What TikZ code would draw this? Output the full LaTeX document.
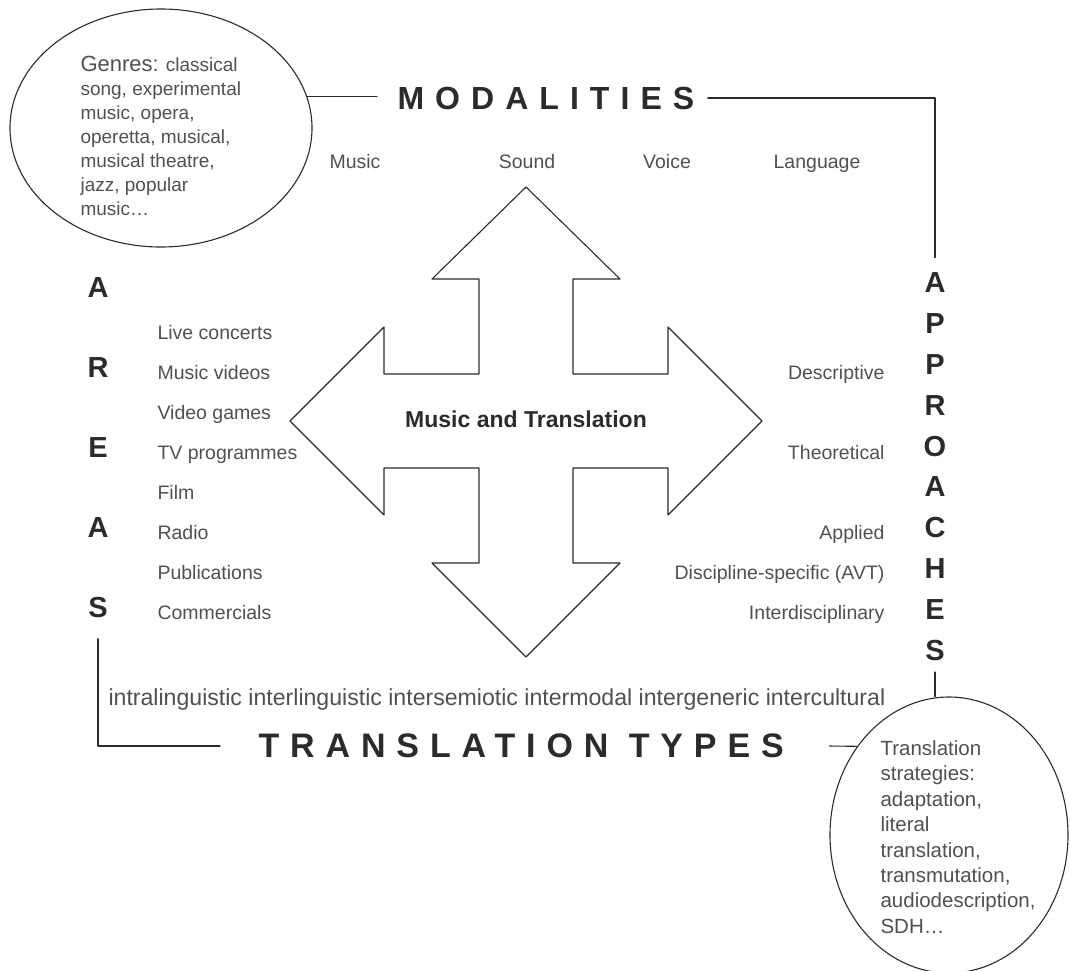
\documentclass[tikz,border=0pt]{standalone}
\usepackage{fontspec}
\setmainfont{Liberation Sans}
\newfontfamily\widefont[LetterSpace=34.5]{Liberation Sans}
\usetikzlibrary{shapes.geometric}
\definecolor{ink}{HTML}{2B2B2B}
\definecolor{txt}{HTML}{505050}
\begin{document}
\begin{tikzpicture}[x=1pt, y=-1pt, line join=round, line cap=round, line width=1.1pt, color=ink,
	item/.style={text=txt, inner sep=0, font=\fontsize{19.5}{23}\selectfont},
	caps/.style={text=ink, inner sep=0, font=\fontsize{29}{30}\selectfont\bfseries},
	title/.style={text=ink, inner sep=0, anchor=west, font=\widefont\bfseries\fontsize{32}{34}\selectfont},
	bubble/.style={ellipse, draw=ink, inner sep=0}]
	\useasboundingbox (0,0) rectangle (1070,970);
	% the cross of four arrows
	\draw[shift={(526,421)}] (0,-234)--(94,-142)--(47,-142)--(47,-47)--(142,-47)--(142,-94)--(236,0)--(142,94)--(142,47)--(47,47)--(47,142)--(94,142)--(0,236)--(-94,142)--(-47,142)--(-47,47)--(-142,47)--(-142,94)--(-236,0)--(-142,-94)--(-142,-47)--(-47,-47)--(-47,-142)--(-94,-142)--cycle;
	\node[text=ink, inner sep=0, font=\fontsize{23}{25}\selectfont\bfseries] (core) at (526,419) {Music and Translation};
	% bubbles
	\node[bubble, minimum width=302pt, minimum height=238pt] (genres) at (161,128) {};
	\node[text=txt, inner sep=0, anchor=north west, align=left, font=\fontsize{19}{23.9}\selectfont] (genrestext) at (80,56) {{\fontsize{22}{23.9}\selectfont Genres:} classical\\song, experimental\\music, opera,\\operetta, musical,\\musical theatre,\\jazz, popular\\music\ldots};
	\node[bubble, minimum width=238pt, minimum height=276pt] (tbubble) at (949,835) {};
	\node[text=txt, inner sep=0, anchor=north west, align=left, font=\fontsize{20.5}{25.4}\selectfont] (strategies) at (880,740) {Translation\\strategies:\\adaptation,\\literal\\translation,\\transmutation,\\audiodescription,\\SDH\ldots};
	% titles
	\node[title] (mod) at (397,98) {MODALITIES};
	\node[title, font=\widefont\bfseries\fontsize{34}{36}\selectfont\addfontfeature{LetterSpace=32}] (tt) at (258,746) {TRANSLATION TYPES};
	\foreach \l [count=\i] in {A,R,E,A,S}
		\node[caps] (ar\i) at (98,{288+80*(\i-1)}) {\l};
	\foreach \l [count=\i] in {A,P,P,R,O,A,C,H,E,S}
		\node[caps] (ap\i) at (935,{283+40.8*(\i-1)}) {\l};
	% modalities
	\node[item, anchor=base] (music) at (355,168) {Music};
	\node[item, anchor=base] (sound) at (527,168) {Sound};
	\node[item, anchor=base] (voice) at (667,168) {Voice};
	\node[item, anchor=base] (language) at (817,168) {Language};
	% areas
	\node[item, anchor=base west] (live) at (157,339) {Live concerts};
	\node[item, anchor=base west] (videos) at (157,379) {Music videos};
	\node[item, anchor=base west] (games) at (157,419) {Video games};
	\node[item, anchor=base west] (tv) at (157,459) {TV programmes};
	\node[item, anchor=base west] (film) at (157,499) {Film};
	\node[item, anchor=base west] (radio) at (157,539) {Radio};
	\node[item, anchor=base west] (publ) at (157,579) {Publications};
	\node[item, anchor=base west] (comm) at (157,619) {Commercials};
	% approaches
	\node[item, anchor=base east] (descr) at (885,379) {Descriptive};
	\node[item, anchor=base east] (theor) at (885,459) {Theoretical};
	\node[item, anchor=base east] (appl) at (885,539) {Applied};
	\node[item, anchor=base east] (disc) at (885,579) {Discipline-specific (AVT)};
	\node[item, anchor=base east] (inter) at (885,619) {Interdisciplinary};
	% translation types
	\node[item, anchor=base west, font=\fontsize{23.1}{25}\selectfont] (types) at (108,705) {intralinguistic interlinguistic intersemiotic intermodal intergeneric intercultural};
	% connectors
	\draw (genres.12) -- ([xshift=-20pt]mod.west |- genres.12);
	\draw ([xshift=13pt]mod.east) -- (mod.east -| ap1) -- ([yshift=15pt]ap1.north);
	\draw ([yshift=-20pt]ar5.south) -- (ar5.south |- tt.west) -- ([xshift=-38pt]tt.west);
	\draw ([xshift=45pt]tt.east) -- (tbubble.136);
	\draw ([yshift=-11pt]ap10.south) -- (ap10.south |- tbubble.north);
\end{tikzpicture}
\end{document}
